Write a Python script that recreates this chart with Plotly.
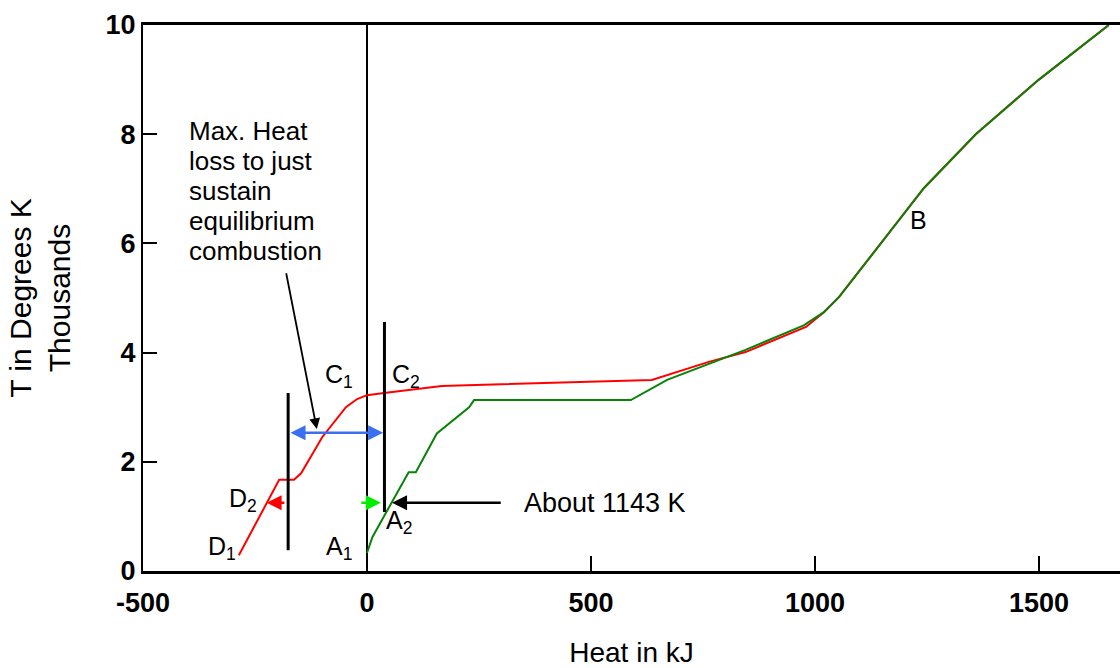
import plotly.graph_objects as go

# ---- data (Heat in kJ, T in thousands of K) ----
red_x = [-286, -208, -196, -163, -147, -100, -47, -22, 0, 38, 167, 636, 763, 845, 980, 1020, 1054, 1243, 1359, 1500, 1656]
red_y = [0.29, 1.48, 1.67, 1.67, 1.79, 2.45, 3.0, 3.15, 3.22, 3.26, 3.39, 3.50, 3.83, 4.01, 4.47, 4.74, 5.02, 7.01, 8.0, 9.0, 10.0]

green_x = [0, 12, 93, 109, 156, 228, 239, 589, 670, 763, 845, 975, 1020, 1054, 1243, 1359, 1500, 1656]
green_y = [0.33, 0.62, 1.81, 1.81, 2.52, 3.0, 3.13, 3.13, 3.50, 3.80, 4.05, 4.5, 4.74, 5.02, 7.01, 8.0, 9.0, 10.0]

x_ticks = [-500, 0, 500, 1000, 1500]
y_ticks = [0, 2, 4, 6, 8, 10]

note_lines = ["Max. Heat", "loss to just", "sustain", "equilibrium", "combustion"]

FONT = "Liberation Sans, Arial, sans-serif"

fig = go.Figure()
fig.add_trace(go.Scatter(x=red_x, y=red_y, mode="lines",
                         line=dict(color="#ff0000", width=2), showlegend=False))
fig.add_trace(go.Scatter(x=green_x, y=green_y, mode="lines",
                         line=dict(color="#0a820a", width=2), showlegend=False))

# vertical black bars
fig.add_shape(type="line", x0=-176, x1=-176, y0=0.38, y1=3.26,
              line=dict(color="black", width=3))
fig.add_shape(type="line", x0=39, x1=39, y0=1.08, y1=4.56,
              line=dict(color="black", width=3))

ann = []
# blue double arrow
ann.append(dict(x=36, y=2.53, ax=-174, ay=2.53, xref="x", yref="y", axref="x", ayref="y",
                text="", showarrow=True, arrowhead=2, startarrowhead=2, arrowside="end+start",
                arrowsize=1.2, startarrowsize=1.2, arrowwidth=2.5, arrowcolor="#3a6ff0", standoff=0, startstandoff=0))
# red arrow
ann.append(dict(x=-224, y=1.25, ax=-181, ay=1.25, xref="x", yref="y", axref="x", ayref="y",
                text="", showarrow=True, arrowhead=2, arrowsize=1.2, arrowwidth=2.5,
                arrowcolor="#ff0000", standoff=0))
# green arrow
ann.append(dict(x=31, y=1.25, ax=-16, ay=1.25, xref="x", yref="y", axref="x", ayref="y",
                text="", showarrow=True, arrowhead=2, arrowsize=1.2, arrowwidth=2.5,
                arrowcolor="#00ee00", standoff=0))
# black arrow from label
ann.append(dict(x=56, y=1.25, ax=302, ay=1.25, xref="x", yref="y", axref="x", ayref="y",
                text="", showarrow=True, arrowhead=2, arrowsize=1.2, arrowwidth=2.5,
                arrowcolor="black", standoff=0))
# black arrow from text box
ann.append(dict(x=-112, y=2.6, ax=-181, ay=5.48, xref="x", yref="y", axref="x", ayref="y",
                text="", showarrow=True, arrowhead=2, arrowsize=1.2, arrowwidth=1.8,
                arrowcolor="black", standoff=0))

ann.append(dict(x=345, y=1.25, xref="x", yref="y", text="About 1143 K", showarrow=False,
                xanchor="left", yanchor="middle", font=dict(family=FONT, size=27, color="black")))

for i, line in enumerate(note_lines):
    ann.append(dict(x=-402, y=8.06 - i * 0.55, xref="x", yref="y", text=line,
                    showarrow=False, xanchor="left", yanchor="middle",
                    font=dict(family=FONT, size=26, color="black")))

labels = [("C<sub>1</sub>", -62, 3.57), ("C<sub>2</sub>", 87, 3.57),
          ("D<sub>2</sub>", -277, 1.30), ("D<sub>1</sub>", -324, 0.42),
          ("A<sub>1</sub>", -62, 0.42), ("A<sub>2</sub>", 71, 0.90), ("B", 1232, 6.43)]
for t, lx, ly in labels:
    ann.append(dict(x=lx, y=ly, xref="x", yref="y", text=t, showarrow=False,
                    xanchor="center", yanchor="middle", font=dict(family=FONT, size=25, color="black")))

fig.update_layout(
    width=1120, height=668,
    margin=dict(l=143, r=0, t=25, b=97),
    plot_bgcolor="white", paper_bgcolor="white",
    annotations=ann,
    xaxis=dict(range=[-500, 1681], tickvals=x_ticks, ticktext=[str(v) for v in x_ticks],
               automargin=False,
               showgrid=False, zeroline=True, zerolinecolor="black", zerolinewidth=2,
               showline=True, linecolor="black", linewidth=3, mirror=True,
               ticks="inside", ticklen=15, tickwidth=2, tickcolor="black",
               ticklabelstandoff=6,
               tickfont=dict(family=FONT, size=27, color="black", weight="bold"),
               title=dict(text="Heat in kJ", font=dict(family=FONT, size=28, color="black"), standoff=32)),
    yaxis=dict(range=[0, 10], tickvals=y_ticks, ticktext=[str(v) for v in y_ticks],
               automargin=False,
               showgrid=False, zeroline=False,
               showline=True, linecolor="black", linewidth=2,
               ticks="inside", ticklen=14, tickwidth=2, tickcolor="black",
               tickfont=dict(family=FONT, size=27, color="black", weight="bold"),
               title=dict(text="T in Degrees K<br>Thousands", font=dict(family=FONT, size=30, color="black"), standoff=26)),
)

fig.write_html("out.html", config={"displayModeBar": False},
               post_script="document.body.style.margin='0';")
